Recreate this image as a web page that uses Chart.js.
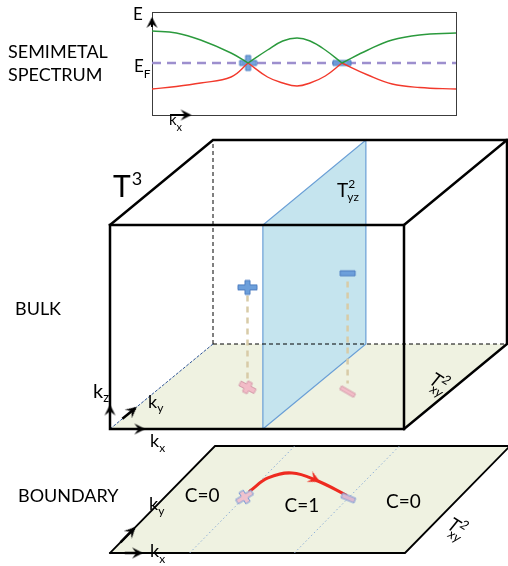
<!DOCTYPE html>
<html>
<head>
<meta charset="utf-8">
<script src="https://cdn.jsdelivr.net/npm/chart.js@4/dist/chart.umd.min.js"></script>
<style>
  html, body { margin: 0; padding: 0; background: #fff; }
  #wrap { position: relative; width: 508px; height: 566px; overflow: hidden; }
  #wrap canvas { position: absolute; left: 0; top: 0; }
</style>
</head>
<body>
<div id="wrap">
  <canvas id="zone" width="508" height="566"></canvas>
  <canvas id="spectrum" width="508" height="566"></canvas>
</div>
<script>
// ---------- semimetal band structure along kx (energies relative to E_F) ----------
// each Weyl node is listed twice so both branches meet it with their own slope
const kx        = [0, 0.08, 0.16, 0.26, 0.316, 0.316, 0.38, 0.43, 0.477, 0.52, 0.57, 0.625, 0.625, 0.71, 0.79, 0.88, 1.0];
const upperBand = [32, 30, 23, 10, 0, 0, 13, 22, 25, 22, 13, 0, 0, 13, 23, 28, 30];
const lowerBand = [-26, -23.5, -20, -14, 0, 0, -14, -20, -23, -20, -13, 0, 0, -12, -21, -24.5, -26];
const fermiLevel = 0;
const weylKx = [0.316, 0.625];
const weylCharge = [+1, -1];

// ---------- Weyl nodes in the 3D Brillouin zone T^3 (fractions of the zone) ----------
const nodeKx = [0.296, 0.654];
const nodeKy = [0.49, 0.44];
const nodeKz = [0.49, 0.58];
const sliceKx = 0.52;                 // the T^2_yz slice between the nodes

// ---------- surface Brillouin zone T^2_xy ----------
const surfaceNodeKx = [0.27, 0.625];
const surfaceNodeKy = [0.523, 0.514];
const arcKx = [0.268, 0.286, 0.351, 0.465, 0.607];   // Fermi arc
const arcKy = [0.579, 0.701, 0.748, 0.673, 0.542];
const chernLabels = ['C=0', 'C=1', 'C=0'];
const chernKx = [0.12, 0.49, 0.82];
const chernKy = [0.54, 0.45, 0.49];

// ---------- drawing helpers ----------
const FONT = 'Lato, "Open Sans", sans-serif';

function glyph(w, h, draw) {
  const c = document.createElement('canvas');
  c.width = w; c.height = h;
  draw(c.getContext('2d'), w / 2, h / 2);
  return c;
}
function plusGlyph(len, tall, arm, fill, edge) {
  return glyph(len + 4, tall + 4, (g, cx, cy) => {
    const a = arm / 2, w = len / 2, h = tall / 2;
    const pts = [[-a,-h],[a,-h],[a,-a],[w,-a],[w,a],[a,a],[a,h],[-a,h],[-a,a],[-w,a],[-w,-a],[-a,-a]];
    g.beginPath();
    pts.forEach(([px, py], i) => i ? g.lineTo(cx + px, cy + py) : g.moveTo(cx + px, cy + py));
    g.closePath();
    g.fillStyle = fill; g.fill();
    g.lineWidth = 1; g.strokeStyle = edge; g.stroke();
  });
}
function barGlyph(len, arm, fill, edge) {
  return glyph(len + 4, arm + 4, (g, cx, cy) => {
    g.beginPath();
    g.rect(cx - len / 2, cy - arm / 2, len, arm);
    g.fillStyle = fill; g.fill();
    g.lineWidth = 1; g.strokeStyle = edge; g.stroke();
  });
}
// arrow head with its tip at the centre of the image, pointing along +x
function headGlyph(size, color) {
  const s = size;
  return glyph(2 * s + 4, s + 4, (g, cx, cy) => {
    g.beginPath();
    g.moveTo(cx, cy);
    g.lineTo(cx - s, cy - s / 2);
    g.lineTo(cx - s * 0.62, cy);
    g.lineTo(cx - s, cy + s / 2);
    g.closePath();
    g.fillStyle = color; g.fill();
  });
}

const blueFill = '#6c9fdb', blueEdge = '#4c7dc0';
const specPlus  = plusGlyph(17, 15, 5, 'rgba(104,155,216,0.9)', blueEdge);
const specMinus = barGlyph(18, 5, 'rgba(104,155,216,0.9)', blueEdge);
const bulkPlus  = plusGlyph(19, 14, 5, blueFill, blueEdge);
const bulkMinus = barGlyph(15, 5, blueFill, blueEdge);
const floorPlus = plusGlyph(17, 12, 5, '#f2bcc7', '#d69eac');
const floorMinus = barGlyph(16, 4, '#f2bcc7', '#d69eac');
const surfPlus  = plusGlyph(18, 13, 5, '#efc2cd', '#7f9ed6');
const surfMinus = barGlyph(14, 5, '#dab9cf', '#7f9ed6');
const blackHead = headGlyph(11, '#000');
const redHead = headGlyph(12, '#ee2b20');

function scriptText(ctx, x, y, base, sup, sub, size, opt = {}) {
  const it = opt.italic ? 'italic ' : '';
  ctx.font = `${it}${size}px ${FONT}`;
  ctx.fillText(base, x, y);
  const w = ctx.measureText(base).width;
  const small = Math.round(size * (opt.ratio || 0.64));
  ctx.font = `${it}${small}px ${FONT}`;
  const sx = x + w + (opt.gap || 0);
  if (sup) ctx.fillText(sup, sx, y - size * (opt.supRise || 0.42));
  if (sub) ctx.fillText(sub, sx + (opt.subShift || 0), y + size * (opt.subDrop || 0.3));
}

const baseOptions = (xs, ys, padding) => ({
  responsive: false,
  animation: false,
  events: [],
  layout: { padding, autoPadding: false },
  plugins: { legend: { display: false }, tooltip: { enabled: false } },
  scales: {
    x: Object.assign({ type: 'linear', display: false }, xs),
    y: Object.assign({ type: 'linear', display: false }, ys)
  }
});

function path(points, style) {
  return Object.assign({
    data: points, pointRadius: 0, tension: 0, fill: false,
    borderWidth: 1, borderColor: '#000', clip: false
  }, style);
}
function marks(points, styles, rotations, order) {
  return { data: points, showLine: false, pointStyle: styles, pointRotation: rotations,
           pointRadius: 10, order, clip: false };
}

// ---------- top panel: band spectrum ----------
new Chart(document.getElementById('spectrum'), {
  type: 'line',
  data: {
    datasets: [
      path(kx.map((k, i) => ({ x: k, y: upperBand[i] })), { borderColor: '#2b9a3d', borderWidth: 1.4, tension: 0.4, order: 1 }),
      path(kx.map((k, i) => ({ x: k, y: lowerBand[i] })), { borderColor: '#f2392c', borderWidth: 1.4, tension: 0.4, order: 1 }),
      marks(weylKx.map(k => ({ x: k, y: fermiLevel })), weylCharge.map(q => q > 0 ? specPlus : specMinus), 0, 2),
      path([{ x: 0, y: fermiLevel }, { x: 1, y: fermiLevel }], { borderColor: '#9d8fce', borderWidth: 2.5, borderDash: [9, 6], order: 3 }),
      // axis arrows
      path([{ x: 0, y: 36 }, { x: 0, y: 44 }], { borderWidth: 2, order: 0 }),
      marks([{ x: 0, y: 46 }], blackHead, -90, 0),
      path([{ x: 0.06, y: -52 }, { x: 0.12, y: -52 }], { borderWidth: 2, order: 0 }),
      marks([{ x: 0.13, y: -52 }], blackHead, 0, 0)
    ]
  },
  options: baseOptions({ min: 0, max: 1 }, { min: -52, max: 51 }, { left: 152, top: 12, right: 52, bottom: 451 }),
  plugins: [{
    id: 'frameAndLabels',
    beforeDatasetsDraw(chart) {
      const { ctx, chartArea: a } = chart;
      ctx.save();
      ctx.strokeStyle = '#3c3c3c'; ctx.lineWidth = 1;
      ctx.strokeRect(a.left + 0.5, a.top + 0.5, a.right - a.left, a.bottom - a.top);
      ctx.restore();
    },
    afterDatasetsDraw(chart) {
      const { ctx, chartArea: a, scales: { y } } = chart;
      ctx.save();
      ctx.fillStyle = '#000';
      ctx.textBaseline = 'alphabetic';
      scriptText(ctx, a.left - 19, a.top + 8, 'E', '', '', 17);
      scriptText(ctx, a.left - 18, y.getPixelForValue(fermiLevel) + 9, 'E', '', 'F', 17, { subDrop: 0.36, ratio: 0.7 });
      scriptText(ctx, a.left + 17, a.bottom + 10, 'k', '', 'x', 15, { subDrop: 0.4, ratio: 0.72 });
      ctx.restore();
    }
  }]
});

// ---------- Brillouin zone T^3 and the surface zone ----------
const BZ  = { x0: 110, y0: 429, wx: 294, dx: 103, dy: 85, hz: 204 };
const SBZ = { x0: 110, y0: 553, wx: 295, dx: 105, dy: 107 };
const bulkPt = (a, b, c) => ({ x: BZ.x0 + a * BZ.wx + b * BZ.dx, y: BZ.y0 - b * BZ.dy - c * BZ.hz });
const surfPt = (a, b) => ({ x: SBZ.x0 + a * SBZ.wx + b * SBZ.dx, y: SBZ.y0 - b * SBZ.dy });

const solidEdges = [
  [[0,0,0],[1,0,0],[1,0,1],[0,0,1],[0,0,0]],
  [[0,0,1],[0,1,1],[1,1,1],[1,0,1]],
  [[1,0,0],[1,1,0],[1,1,1]]
];
const hiddenEdges = [
  [[0,1,0],[0,1,1]],
  [[0,1,0],[1,1,0]]
];
const corners = pts => pts.map(p => bulkPt(...p));
const floorColor = '#eff2e1';

const zoneSets = [
  // floor of T^3 (the T^2_xy plane)
  path(corners([[0,0,0],[1,0,0],[1,1,0],[0,1,0]]), { fill: 'shape', backgroundColor: floorColor, borderWidth: 0, order: 20 }),
  // kx = const slice T^2_yz
  path(corners([[sliceKx,0,0],[sliceKx,1,0],[sliceKx,1,1],[sliceKx,0,1],[sliceKx,0,0]]),
       { fill: 'shape', backgroundColor: '#c5e4ee', borderColor: '#6a9fd6', borderWidth: 1.2, order: 19 }),
  ...hiddenEdges.map(e => path(corners(e), { borderDash: [4, 3], order: 18 })),
  path(corners([[0,0,0],[0,1,0]]), { borderColor: '#2f5597', borderDash: [3, 1.5], order: 18 }),
  ...solidEdges.map(e => path(corners(e), { borderWidth: 2.5, borderCapStyle: 'square', order: 17 })),
  // projections of the nodes onto the floor
  ...nodeKx.map((k, i) => path([bulkPt(k, nodeKy[i], nodeKz[i] - 0.04), bulkPt(k, nodeKy[i], 0.04)],
       { borderColor: '#d8cba7', borderWidth: 2.5, borderDash: [6, 5], order: 16 })),
  marks(nodeKx.map((k, i) => bulkPt(k, nodeKy[i], nodeKz[i])), [bulkPlus, bulkMinus], 0, 15),
  marks(nodeKx.map((k, i) => bulkPt(k, nodeKy[i], 0)), [floorPlus, floorMinus], [28, 30], 15),
  // k axes of T^3
  path([bulkPt(0, 0.12, 0), bulkPt(0, 0.245, 0)], { borderWidth: 2.5, order: 14 }),
  marks([bulkPt(0, 0, 0.12), bulkPt(0, 0.26, 0), bulkPt(0.12, 0, 0)], blackHead, [-90, -39.5, 0], 13),

  // surface zone
  path([surfPt(0,0), surfPt(1,0), surfPt(1,1), surfPt(0,1), surfPt(0,0)],
       { fill: 'shape', backgroundColor: floorColor, borderWidth: 1.8, borderCapStyle: 'square', order: 20 }),
  ...surfaceNodeKx.map(k => path([surfPt(k, 0), surfPt(k, 1)], { borderColor: '#8fb0d8', borderWidth: 1, borderDash: [1.5, 2.5], order: 18 })),
  path([surfPt(0, 0.1), surfPt(0, 0.23)], { borderWidth: 2.5, order: 14 }),
  path([surfPt(0.05, 0), surfPt(0.1, 0)], { borderWidth: 2.5, order: 14 }),
  marks([surfPt(0, 0.243), surfPt(0.112, 0)], blackHead, [-45.5, 0], 13),
  path(arcKx.map((k, i) => surfPt(k, arcKy[i])), { borderColor: '#ee2b20', borderWidth: 3, tension: 0.4, borderCapStyle: 'round', order: 12 }),
  marks([surfPt(0.476, 0.664)], redHead, 27, 11),
  marks(surfaceNodeKx.map((k, i) => surfPt(k, surfaceNodeKy[i])), [surfPlus, surfMinus], [-32, 22], 10)
];

new Chart(document.getElementById('zone'), {
  type: 'line',
  data: { datasets: zoneSets },
  options: baseOptions({ min: 0, max: 508 }, { min: 0, max: 566, reverse: true }, 0),
  plugins: [{
    id: 'zoneLabels',
    afterDatasetsDraw(chart) {
      const { ctx, scales: { x, y } } = chart;
      const px = p => ({ x: x.getPixelForValue(p.x), y: y.getPixelForValue(p.y) });
      ctx.save();
      ctx.fillStyle = '#000';
      ctx.textBaseline = 'alphabetic';
      ctx.textAlign = 'left';

      ctx.font = `18px ${FONT}`;
      ctx.fillText('SEMIMETAL', 8, 58);
      ctx.fillText('SPECTRUM', 8, 81);
      ctx.fillText('BULK', 15, 315);
      ctx.fillText('BOUNDARY', 18, 502);

      scriptText(ctx, 113, 197, 'T', '3', '', 30, { supRise: 0.4, ratio: 0.6, gap: 1 });
      scriptText(ctx, 337, 197, 'T', '2', 'yz', 19, { supRise: 0.45, subDrop: 0.22, ratio: 0.62, gap: 0 , subShift: -1});

      scriptText(ctx, 93, 398, 'k', '', 'z', 20, { subDrop: 0.2, ratio: 0.65 });
      scriptText(ctx, 148, 408, 'k', '', 'y', 18, { subDrop: 0.22, ratio: 0.68 });
      scriptText(ctx, 150, 447, 'k', '', 'x', 18, { subDrop: 0.3, ratio: 0.68 });
      scriptText(ctx, 149, 510, 'k', '', 'y', 18, { subDrop: 0.3, ratio: 0.68 });
      scriptText(ctx, 150, 557, 'k', '', 'x', 18, { subDrop: 0.33, ratio: 0.68 });

      // T^2_xy names lying on the floor and on the surface zone
      [[428, 383], [446, 528]].forEach(([tx, ty]) => {
        ctx.save();
        ctx.translate(tx, ty);
        ctx.rotate(32 * Math.PI / 180);
        scriptText(ctx, 0, 0, 'T', '2', 'xy', 19, { italic: true, supRise: 0.42, subDrop: 0.35, ratio: 0.66, subShift: -5 });
        ctx.restore();
      });

      ctx.textAlign = 'center';
      ctx.font = `19px ${FONT}`;
      chernLabels.forEach((t, i) => {
        const p = px(surfPt(chernKx[i], chernKy[i]));
        ctx.fillText(t, p.x, p.y + 7);
      });
      ctx.restore();
    }
  }]
});
</script>
</body>
</html>
